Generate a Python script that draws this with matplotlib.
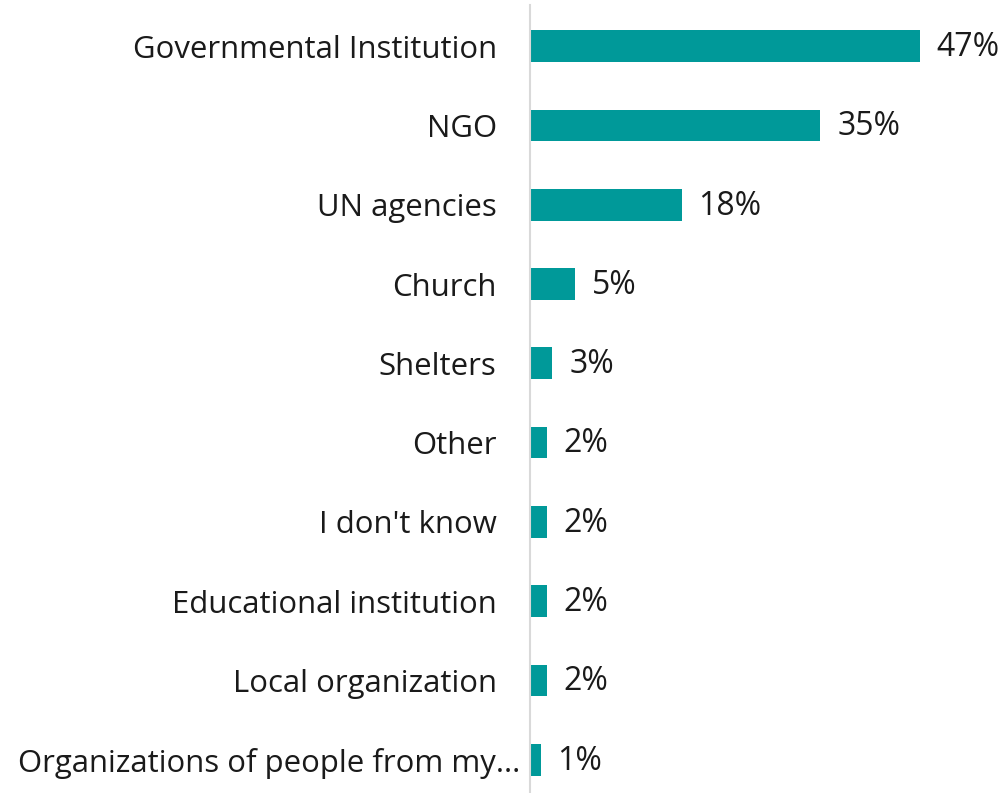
import matplotlib.pyplot as plt
import matplotlib.transforms as mtransforms

# data
categories = ['Governmental Institution', 'NGO', 'UN agencies', 'Church', 'Shelters',
              'Other', "I don't know", 'Educational institution', 'Local organization',
              'Organizations of people from my...']
values = [47, 35, 18.3, 5.4, 2.7, 2.0, 2.0, 2.0, 2.0, 1.3]
labels = ['47%', '35%', '18%', '5%', '3%', '2%', '2%', '2%', '2%', '1%']

plt.rcParams['font.family'] = ['Open Sans', 'DejaVu Sans']

fig = plt.figure(figsize=(10.08, 7.93), dpi=100)
ax = fig.add_axes([530 / 1008, 0, 478 / 1008, 788 / 793])

ypos = list(range(len(categories)))
ax.barh(ypos, values, height=0.4, color='#009999')

for y, v, t in zip(ypos, values, labels):
    ax.annotate(t, (v, y), xytext=(12, -1), textcoords='offset points',
                va='center', ha='left', fontsize=23, color='#1a1a1a')

ax.set_yticks(ypos)
ax.set_yticklabels(categories, fontsize=22.4, color='#1a1a1a')
ax.tick_params(axis='y', length=0, pad=24)
ax.set_xticks([])
ax.set_xlim(0, 57.6)
ax.set_ylim(9.42, -0.52)

# the truncated last label sits closer to the axis
last = ax.get_yticklabels()[-1]
last.set_transform(last.get_transform() + mtransforms.ScaledTranslation(24 / 100, 0, fig.dpi_scale_trans))

for s in ['top', 'right', 'bottom']:
    ax.spines[s].set_visible(False)
ax.spines['left'].set_color('#d9d9d9')
ax.spines['left'].set_linewidth(1.5)

fig.savefig('out.png', dpi=100, facecolor='white')
